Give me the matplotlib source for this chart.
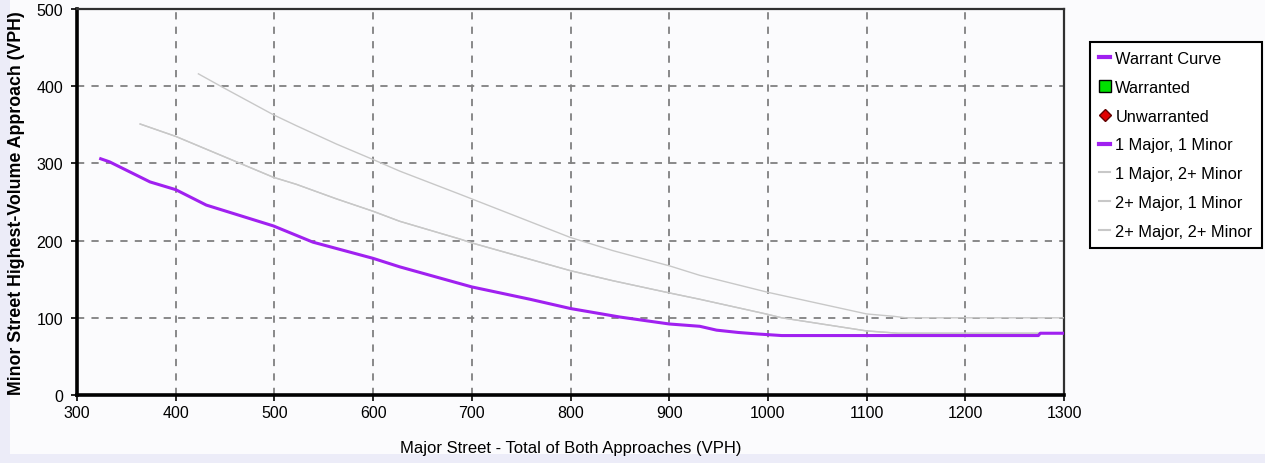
import matplotlib.pyplot as plt
from matplotlib.lines import Line2D
from matplotlib.patches import Rectangle

# Warrant curves
major_1x1 = [324, 333, 374, 400, 431, 499, 539, 600, 627, 700, 759, 800, 850, 900,
             931, 948, 970, 990, 1014, 1274, 1276, 1300]
minor_1x1 = [306, 302, 276, 266, 246, 219, 198, 177, 166, 140, 124, 112, 101, 92,
             89, 84, 81, 79, 77, 77, 80, 80]

major_1x2 = [364, 400, 499, 522, 563, 600, 627, 688, 700, 800, 843, 901, 931, 998,
             1014, 1100, 1132, 1300]
minor_1x2 = [351, 335, 282, 273, 254, 238, 225, 202, 197, 161, 148, 132, 124, 105,
             100, 83, 80, 80]

# 2+ Major, 1 Minor sits on top of 1 Major, 2+ Minor
major_2x1 = major_1x2
minor_2x1 = minor_1x2

major_2x2 = [423, 447, 499, 522, 563, 600, 627, 688, 700, 800, 843, 901, 931, 1000,
             1100, 1127, 1140, 1300]
minor_2x2 = [416, 399, 363, 349, 325, 305, 290, 260, 254, 204, 187, 167, 155, 133,
             105, 102, 100, 100]

x_ticks = [300, 400, 500, 600, 700, 800, 900, 1000, 1100, 1200, 1300]
y_ticks = [0, 100, 200, 300, 400, 500]

PURPLE = '#A020F0'
GRAY = '#C8C8C8'

plt.rcParams['font.family'] = ['Liberation Sans', 'DejaVu Sans']

fig = plt.figure(figsize=(12.65, 4.64), dpi=100)
fig.patch.set_facecolor('#ECECF8')
fig.patches.append(Rectangle((10 / 1265, 9 / 464), 1 - 10 / 1265, 1 - 9 / 464,
                             transform=fig.transFigure, facecolor='#FBFBFD',
                             edgecolor='none', zorder=-10))

ax = fig.add_axes([77 / 1265, 1 - 396 / 464, (1064 - 77) / 1265, (396 - 10) / 464])
ax.set_zorder(2)
ax.set_facecolor('#FBFBFD')

ax.plot(major_2x2, minor_2x2, color=GRAY, lw=1.0, zorder=3)
ax.plot(major_2x1, minor_2x1, color=GRAY, lw=1.0, zorder=3)
ax.plot(major_1x2, minor_1x2, color=GRAY, lw=1.0, zorder=3)
ax.plot(major_1x1, minor_1x1, color=PURPLE, lw=2.2, zorder=4)

ax.set_xlim(300, 1300)
ax.set_ylim(0, 500)
ax.set_xticks(x_ticks)
ax.set_yticks(y_ticks)
ax.grid(True, color='#808080', linestyle=(0, (4, 4)), lw=1.3)
ax.tick_params(direction='out', length=4, width=1.2, labelsize=11.5, colors='black')
ax.tick_params(axis='y', pad=6)

for side in ['left', 'bottom']:
    ax.spines[side].set_linewidth(2.6)
    ax.spines[side].set_color('black')
for side in ['top', 'right']:
    ax.spines[side].set_linewidth(1.6)
    ax.spines[side].set_color('#303030')

ax.set_xlabel('Major Street - Total of Both Approaches (VPH)', fontsize=12, labelpad=14)
ax.set_ylabel('Minor Street Highest-Volume Approach (VPH)', fontsize=12.8,
              fontweight='bold', labelpad=8)

handles = [
    Line2D([], [], color=PURPLE, lw=3),
    Line2D([], [], color='none', marker='s', markersize=9, markerfacecolor='#00E000',
           markeredgecolor='black'),
    Line2D([], [], color='none', marker='D', markersize=6, markerfacecolor='#E00000',
           markeredgecolor='#600000'),
    Line2D([], [], color=PURPLE, lw=3),
    Line2D([], [], color=GRAY, lw=1.5),
    Line2D([], [], color=GRAY, lw=1.5),
    Line2D([], [], color=GRAY, lw=1.5),
]
labels = ['Warrant Curve', 'Warranted', 'Unwarranted', '1 Major, 1 Minor',
          '1 Major, 2+ Minor', '2+ Major, 1 Minor', '2+ Major, 2+ Minor']
leg = fig.legend(handles, labels, loc='upper left', bbox_to_anchor=(1090 / 1265, 1 - 43 / 464),
                 frameon=True, fancybox=False, edgecolor='black', framealpha=1,
                 facecolor='white', fontsize=11.8, handlelength=0.7, handletextpad=0.3,
                 labelspacing=0.84, borderpad=0.55, borderaxespad=0)
leg.get_frame().set_linewidth(1.5)

plt.savefig('out.png', dpi=100, facecolor=fig.get_facecolor())
